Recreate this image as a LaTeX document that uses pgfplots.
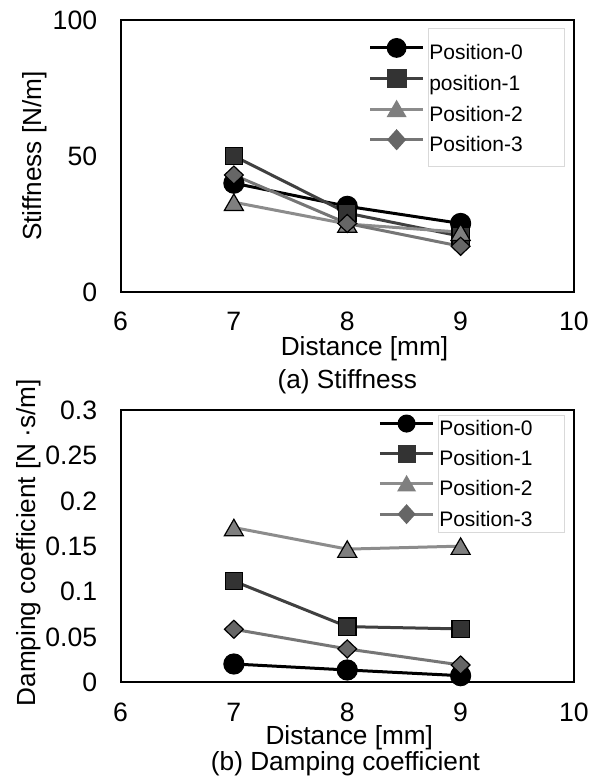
\documentclass[border=0pt]{standalone}
\usepackage{pgfplots}
\pgfplotsset{compat=1.18}
\usepackage{fontspec}
\setmainfont{Liberation Sans}
\definecolor{cBl}{HTML}{404040}
\definecolor{cBf}{HTML}{333333}
\definecolor{cCl}{HTML}{8C8C8C}
\definecolor{cCf}{HTML}{7F7F7F}
\definecolor{cDl}{HTML}{767676}
\definecolor{cDf}{HTML}{666666}
\definecolor{legbox}{HTML}{D9D9D9}

\pgfplotstableread{
x y
7 40
8 31.5
9 25.2
}\stA
\pgfplotstableread{
x y
7 50
8 29
9 20.5
}\stB
\pgfplotstableread{
x y
7 33
8 25
9 22
}\stC
\pgfplotstableread{
x y
7 43
8 25.2
9 16.8
}\stD
\pgfplotstableread{
x y
7 0.0202
8 0.0136
9 0.0073
}\dpA
\pgfplotstableread{
x y
7 0.1116
8 0.0614
9 0.0589
}\dpB
\pgfplotstableread{
x y
7 0.1707
8 0.1469
9 0.1502
}\dpC
\pgfplotstableread{
x y
7 0.0585
8 0.0368
9 0.0191
}\dpD

\pgfplotsset{
  myaxis/.style={
    scale only axis, width=226.75pt, height=136pt,
    anchor=south west, clip=false,
    xmin=6, xmax=10, xtick={6,7,8,9,10},
    major tick length=0pt, minor tick num=0,
    axis line style={line width=1pt, black},
    tick label style={font=\fontsize{13.3}{15}\selectfont},
    /pgf/number format/assume math mode=true,
    xticklabel style={inner sep=0pt, anchor=north, yshift=-10pt},
    yticklabel style={inner sep=0pt, anchor=east, xshift=-11.5pt},
    label style={font=\fontsize{13.1}{15}\selectfont, inner sep=0pt},
    legend cell align=left,
    legend image code/.code={%
      \begin{pgfinterruptboundingbox}%
      \draw[mark repeat=2, mark phase=2, ##1] plot coordinates {(0pt,3.25pt) (13.3pt,3.25pt) (26.65pt,3.25pt)};%
      \end{pgfinterruptboundingbox}%
      \path[draw=none, fill=none] (0pt,-5.25pt) rectangle (29.65pt,5.25pt);},
    legend style={draw=none, fill=none, inner sep=0pt, outer sep=0pt,
      column sep=0pt, font=\fontsize{10.5}{12}\selectfont,
      nodes={inner sep=0pt, text height=8pt, text depth=2.5pt}},
  },
  pA/.style={black, line width=1.5pt, mark=*, mark size=5pt,
    mark options={solid, fill=black, draw=black, line width=0.6pt}},
  pB/.style={cBl, line width=1.5pt, mark=square*, mark size=4.33pt,
    mark options={solid, fill=cBf, draw=black, line width=0.6pt}},
  pC/.style={cCl, line width=1.5pt, mark=triangle*, mark size=5.5pt,
    mark options={solid, fill=cCf, draw=black, line width=0.6pt, yshift=-1.375pt}},
  pD/.style={cDl, line width=1.5pt, mark=diamond*, mark size=4.5pt,
    mark options={solid, fill=cDf, draw=black, line width=0.6pt, xscale=1.4}},
}

\begin{document}
\begin{tikzpicture}
\path[use as bounding box] (-60.25pt,146pt) rectangle (234.75pt,-244pt);

% ---------- (a) Stiffness ----------
\begin{axis}[myaxis, at={(0pt,0pt)},
  ymin=0, ymax=100, ytick={0,50,100},
  xlabel={Distance [mm]}, ylabel={Stiffness [N/m]},
  xlabel style={at={(axis description cs:0.538,0)}, anchor=north, yshift=-22pt},
  ylabel style={at={(axis description cs:-0.162,0.5)}, anchor=south},
  legend style={at={(axis description cs:0.5502,0.912)}, anchor=north west, row sep=4.8pt},
]
\draw[legbox, line width=0.5pt] (axis description cs:0.679,0.967) rectangle (axis description cs:0.979,0.461);
\addplot[pA, forget plot] table[x=x, y=y] {\stA};
\addplot[pB, forget plot] table[x=x, y=y] {\stB};
\addplot[pC, forget plot] table[x=x, y=y] {\stC};
\addplot[pD, forget plot] table[x=x, y=y] {\stD};
\addlegendimage{black, line width=1.5pt, mark=*, mark size=4.2pt, mark options={solid, fill=black, draw=black}}
\addlegendentry{Position-0}
\addlegendimage{cBl, line width=1.5pt, mark=square*, mark size=4.2pt, mark options={solid, fill=cBf, draw=cBf}}
\addlegendentry{position-1}
\addlegendimage{cCl, line width=1.5pt, mark=triangle*, mark size=4.3pt, mark options={solid, fill=cCf, draw=cCf, yshift=-1.1pt}}
\addlegendentry{Position-2}
\addlegendimage{cDl, line width=1.5pt, mark=diamond*, mark size=4.2pt, mark options={solid, fill=cDf, draw=cDf, xscale=1.2}}
\addlegendentry{Position-3}
\node[anchor=north, inner sep=0pt, font=\fontsize{13.1}{15}\selectfont, yshift=-38.5pt] at (axis description cs:0.5,0) {(a) Stiffness};
\end{axis}

% ---------- (b) Damping coefficient ----------
\begin{axis}[myaxis, at={(0pt,-195.15pt)},
  ymin=0, ymax=0.3, ytick={0,0.05,0.1,0.15,0.2,0.25,0.3},
  yticklabels={0,0.05,0.1,0.15,0.2,0.25,0.3},
  scaled y ticks=false,
  xlabel={Distance [mm]}, ylabel={Damping coefficient [N\hspace{0.22em}·s/m]},
  xlabel style={at={(axis description cs:0.5045,0)}, anchor=north, yshift=-21.5pt},
  ylabel style={at={(axis description cs:-0.1746,0.513)}, anchor=south},
  legend style={at={(axis description cs:0.5722,0.966)}, anchor=north west, row sep=4.6pt},
]
\draw[legbox, line width=0.5pt] (axis description cs:0.7017,0.980) rectangle (axis description cs:0.979,0.550);
\addplot[pA, forget plot] table[x=x, y=y] {\dpA};
\addplot[pB, forget plot] table[x=x, y=y] {\dpB};
\addplot[pC, forget plot] table[x=x, y=y] {\dpC};
\addplot[pD, forget plot] table[x=x, y=y] {\dpD};
\addlegendimage{black, line width=1.5pt, mark=*, mark size=3.75pt, mark options={solid, fill=black, draw=black}}
\addlegendentry{Position-0}
\addlegendimage{cBl, line width=1.5pt, mark=square*, mark size=3.75pt, mark options={solid, fill=cBf, draw=cBf}}
\addlegendentry{Position-1}
\addlegendimage{cCl, line width=1.5pt, mark=triangle*, mark size=4pt, mark options={solid, fill=cCf, draw=cCf, yshift=-1pt}}
\addlegendentry{Position-2}
\addlegendimage{cDl, line width=1.5pt, mark=diamond*, mark size=3.9pt, mark options={solid, fill=cDf, draw=cDf, xscale=1.2}}
\addlegendentry{Position-3}
\node[anchor=north, inner sep=0pt, font=\fontsize{13.1}{15}\selectfont, yshift=-34.5pt] at (axis description cs:0.496,0) {(b) Damping coefficient};
\end{axis}
\end{tikzpicture}
\end{document}
